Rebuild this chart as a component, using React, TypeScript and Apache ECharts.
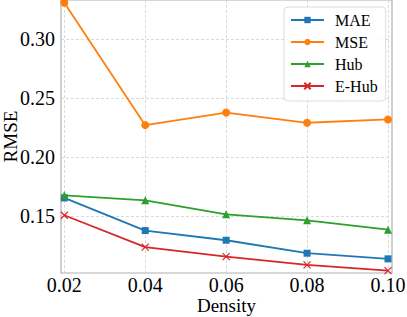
import React, { useEffect, useRef } from "react";
import * as echarts from "echarts";

const densities = [0.02, 0.04, 0.06, 0.08, 0.1];
const xTicks = [0.02, 0.04, 0.06, 0.08, 0.1];
const yTicks = [0.15, 0.2, 0.25, 0.3];
const maeValues = [0.1653, 0.1376, 0.1294, 0.1184, 0.1136];
const mseValues = [0.331, 0.2271, 0.2378, 0.2291, 0.2319];
const hubValues = [0.1675, 0.1633, 0.1514, 0.1463, 0.1384];
const eHubValues = [0.1506, 0.1235, 0.1155, 0.1085, 0.1036];

const FONT = "Liberation Serif";

function pairs(vals: number[]) {
  return densities.map((d, i) => [d, vals[i]]);
}

export default function App() {
  const ref = useRef<HTMLDivElement>(null);
  useEffect(() => {
    if (!ref.current) return;
    const chart = echarts.init(ref.current, undefined, { renderer: "svg" });
    const mk = (name: string, vals: number[], color: string, symbol: string, size: number, extra: any = {}) => ({
      name,
      type: "line",
      data: pairs(vals),
      symbol,
      symbolSize: size,
      lineStyle: { color, width: 1.8 },
      itemStyle: { color, ...extra },
      clip: false,
    });
    chart.setOption({
      animation: false,
      backgroundColor: "#fff",
      textStyle: { fontFamily: FONT },
      grid: {
        left: 61,
        right: 15,
        top: 0,
        bottom: 44,
        show: true,
        borderColor: "#b0b0b0",
        borderWidth: 1.2,
        outerBoundsMode: "none",
        containLabel: false,
      },
      xAxis: {
        type: "value",
        min: 0.01918,
        max: 0.10099,
        name: "Density",
        nameLocation: "middle",
        nameGap: 23,
        nameMoveOverlap: false,
        nameTextStyle: { fontFamily: FONT, fontSize: 19, color: "#000" },
        axisLine: { show: false },
        axisTick: { show: false, customValues: xTicks },
        axisLabel: {
          customValues: xTicks,
          formatter: (v: number) => v.toFixed(2),
          fontFamily: FONT,
          fontSize: 20,
          color: "#000",
          margin: 2,
          hideOverlap: false,
        },
        splitLine: { show: true, lineStyle: { color: "#d0d0d0", type: [3, 2], width: 0.8 } },
      },
      yAxis: {
        type: "value",
        min: 0.1016,
        max: 0.3333,
        name: "RMSE",
        nameLocation: "middle",
        nameGap: 41,
        nameMoveOverlap: false,
        nameTextStyle: { fontFamily: FONT, fontSize: 19, color: "#000" },
        axisLine: { show: false },
        axisTick: { show: false, customValues: yTicks },
        axisLabel: {
          customValues: yTicks,
          formatter: (v: number) => v.toFixed(2),
          fontFamily: FONT,
          fontSize: 20,
          color: "#000",
          margin: 6,
        },
        splitLine: { show: true, lineStyle: { color: "#d0d0d0", type: [3, 2], width: 0.8 } },
      },
      legend: {
        orient: "vertical",
        left: 284,
        top: 7,
        padding: [5, 8, 7, 6],
        itemGap: 6,
        itemWidth: 33,
        itemHeight: 8,
        backgroundColor: "rgba(255,255,255,0.85)",
        borderColor: "#dddddd",
        borderWidth: 1,
        borderRadius: 4,
        textStyle: { fontFamily: FONT, fontSize: 16, color: "#000", lineHeight: 16, padding: [0, 0, 0, 6] },
        data: ["MAE", "MSE", "Hub", "E-Hub"],
      },
      series: [
        mk("MAE", maeValues, "#1f77b4", "rect", 7),
        mk("MSE", mseValues, "#ff7f0e", "circle", 8),
        mk("Hub", hubValues, "#2ca02c", "triangle", 8),
        mk("E-Hub", eHubValues, "#d62728", "path://M0,0L10,10M10,0L0,10", 7, {
          borderColor: "#d62728",
          borderWidth: 1.2,
          color: "none",
        }),
      ],
    });
    return () => chart.dispose();
  }, []);
  return (
    <div
      ref={ref}
      style={{ position: "fixed", left: 0, top: 0, width: 407, height: 317 }}
    />
  );
}
